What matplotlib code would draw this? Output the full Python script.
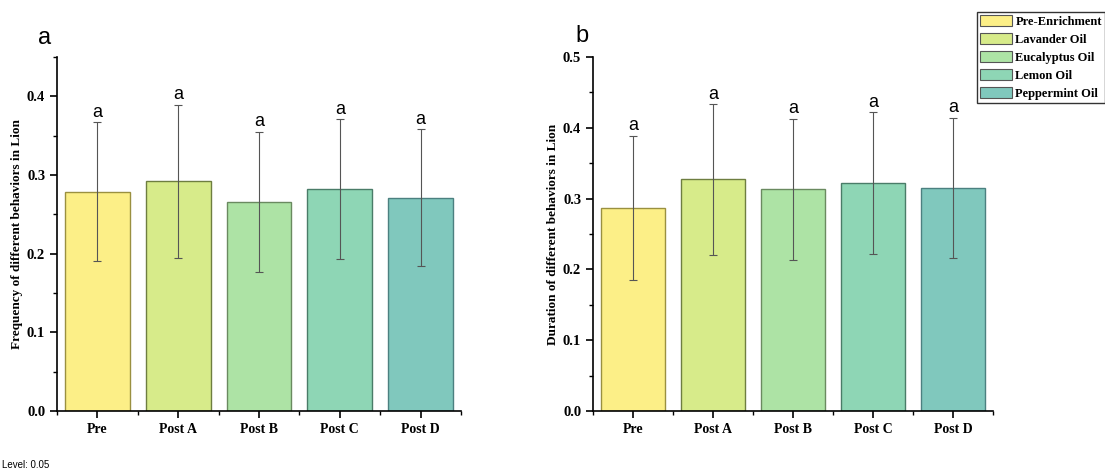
import numpy as np
import matplotlib
matplotlib.use("Agg")
import matplotlib.pyplot as plt
from matplotlib.patches import Patch
from matplotlib.ticker import MultipleLocator, FixedLocator

# ── data ──────────────────────────────────────────────
groups   = ["Pre", "Post A", "Post B", "Post C", "Post D"]
legend_labels = ["Pre-Enrichment", "Lavander Oil", "Eucalyptus Oil", "Lemon Oil", "Peppermint Oil"]

freq_mean = [0.279, 0.292, 0.266, 0.282, 0.271]
freq_err  = [0.088, 0.097, 0.089, 0.089, 0.087]
dur_mean  = [0.287, 0.327, 0.313, 0.322, 0.315]
dur_err   = [0.102, 0.106, 0.100, 0.100, 0.099]
letters   = ["a", "a", "a", "a", "a"]

face_colors = ["#FCEF87", "#D7EB8A", "#ADE3A5", "#8ED6B5", "#80C8BD"]
edge_colors = ["#9A9040", "#6E7E40", "#6A8A60", "#4A7C68", "#4C8080"]

SERIF = "Liberation Serif"
SANS  = "Liberation Sans"

fig = plt.figure(figsize=(11.05, 4.71), dpi=100)
ax1 = fig.add_axes([0.0516, 0.1274, 0.3656, 0.7516])
ax2 = fig.add_axes([0.5367, 0.1274, 0.3620, 0.7516])


def draw_panel(ax, means, errs, ymax, ylabel):
    x = np.arange(len(groups))
    ax.bar(x, means, width=0.8, color=face_colors, edgecolor=edge_colors,
           linewidth=1.0, zorder=2)
    ax.errorbar(x, means, yerr=errs, fmt="none", ecolor="#555555",
                elinewidth=0.8, capsize=3, capthick=0.8, zorder=3)
    for xi, m, e, lt in zip(x, means, errs, letters):
        ax.text(xi, m + e + 0.002, lt, ha="center", va="bottom",
                fontsize=13, family=SANS)
    ax.set_xlim(-0.5, len(groups) - 0.5)
    ax.set_ylim(0, ymax)
    for s in ["top", "right"]:
        ax.spines[s].set_visible(False)
    for s in ["left", "bottom"]:
        ax.spines[s].set_linewidth(1.2)
    ax.yaxis.set_major_locator(MultipleLocator(0.1))
    ax.yaxis.set_minor_locator(MultipleLocator(0.05))
    ax.set_xticks(x)
    ax.set_xticklabels(groups)
    ax.xaxis.set_minor_locator(FixedLocator(np.arange(-0.5, len(groups), 1.0)))
    ax.tick_params(which="major", direction="out", length=5, width=1.2)
    ax.tick_params(which="minor", direction="out", length=3, width=1.0)
    ax.set_ylabel(ylabel, family=SERIF, fontweight="bold", fontsize=9.5, labelpad=3)


def style_ticklabels(ax):
    for lab in ax.get_xticklabels():
        lab.set_fontfamily(SERIF)
        lab.set_fontweight("bold")
        lab.set_fontsize(10)
    for lab in ax.get_yticklabels():
        lab.set_fontfamily(SERIF)
        lab.set_fontweight("bold")
        lab.set_fontsize(10.5)


draw_panel(ax1, freq_mean, freq_err, 0.45, "Frequency of different behaviors in Lion")
ax1.set_yticks([0.0, 0.1, 0.2, 0.3, 0.4])
draw_panel(ax2, dur_mean, dur_err, 0.5, "Duration of different behaviors in Lion")
for ax in (ax1, ax2):
    ax.yaxis.set_major_formatter(plt.FormatStrFormatter("%.1f"))
    fig.canvas.draw()
    style_ticklabels(ax)

fig.text(45 / 1105, 1 - 38 / 471, "a", family=SANS, fontsize=17, ha="center", va="center")
fig.text(582 / 1105, 1 - 36 / 471, "b", family=SANS, fontsize=17, ha="center", va="center")
fig.text(2 / 1105, 1 - 465 / 471, "Level: 0.05", family=SANS, fontsize=7, ha="left", va="center")

handles = [Patch(facecolor=fc, edgecolor="#555555", linewidth=0.8) for fc in face_colors]
leg = fig.legend(handles, legend_labels, loc="upper right",
                 bbox_to_anchor=(1.0, 1 - 12 / 471),
                 prop={"family": SERIF, "weight": "bold", "size": 9},
                 frameon=True, fancybox=False, handlelength=2.5, handleheight=1.0,
                 labelspacing=0.4, handletextpad=0.3, borderpad=0.25,
                 borderaxespad=0.0)
leg.get_frame().set_edgecolor("black")
leg.get_frame().set_linewidth(1.0)

fig.savefig("out.png", dpi=100)
